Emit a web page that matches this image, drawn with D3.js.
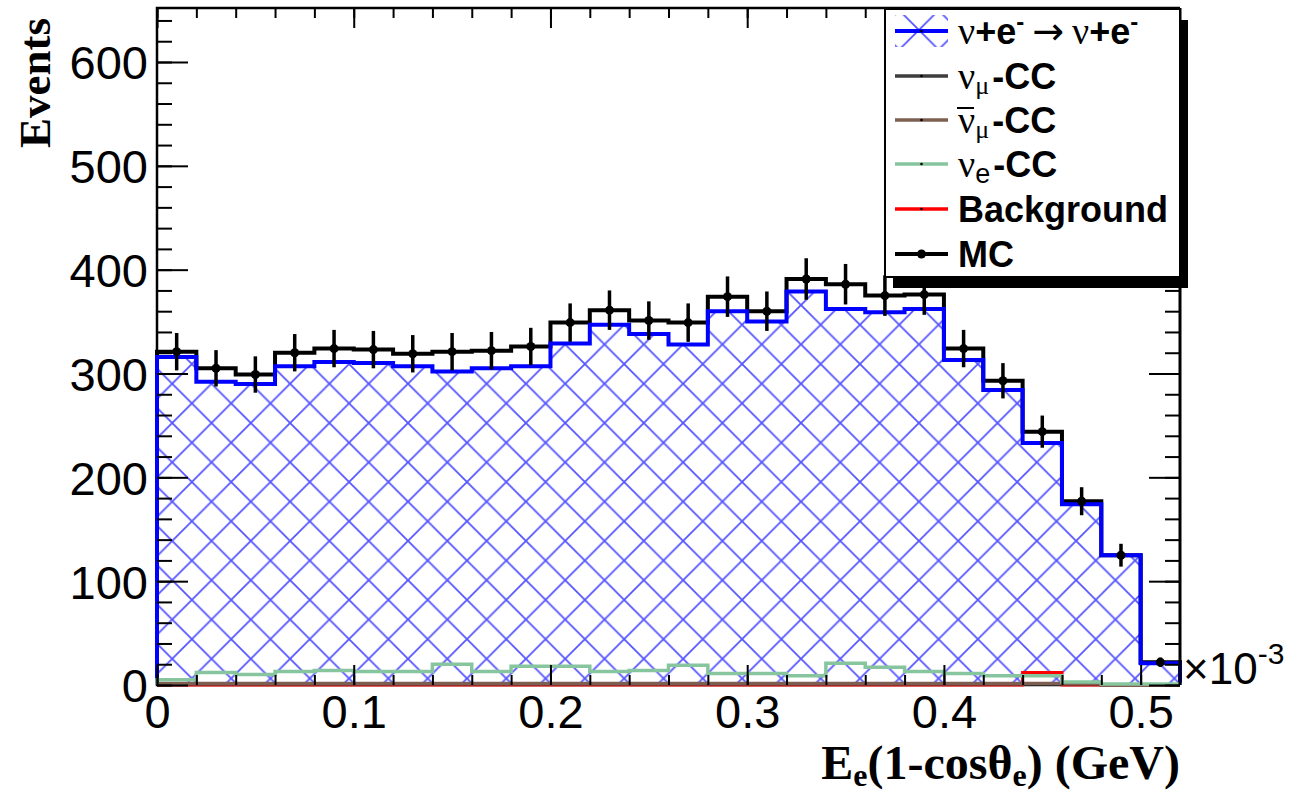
<!DOCTYPE html>
<html>
<head>
<meta charset="utf-8">
<script src="https://cdn.jsdelivr.net/npm/d3@7"></script>
<style>
  body { margin: 0; background: #fff; }
  svg { display: block; }
</style>
</head>
<body>
<div id="chart"></div>
<script>
"use strict";

// bins: low edges, in units of 10^-3 GeV on the axis
var binLow = [0.00, 0.02, 0.04, 0.06, 0.08, 0.10, 0.12, 0.14, 0.16, 0.18, 0.20, 0.22, 0.24,
              0.26, 0.28, 0.30, 0.32, 0.34, 0.36, 0.38, 0.40, 0.42, 0.44, 0.46, 0.48, 0.50];
var binWidth = 0.02;

// histogram contents
var signalCounts = [316, 292, 290, 307, 311, 310, 307, 302, 305, 307, 329, 347, 338,
                    328, 360, 350, 379, 362, 359, 362, 313, 284, 233, 174, 125, 21];
var numuCounts = [1, 1, 1, 1, 1, 1, 1, 1, 1, 1, 1, 1, 1,
                  1, 1, 1, 1, 1, 1, 1, 1, 1, 1, 1, 0, 0];
var antinumuCounts = [1.5, 1.5, 1.5, 1.5, 1.5, 1.5, 1.5, 1.5, 1.5, 1.5, 1.5, 1.5, 1.5,
                      1.5, 1.5, 1.5, 1.5, 1.5, 1.5, 1.5, 1.5, 1.5, 1.5, 1.5, 0, 0];
var nueCounts = [5, 12, 10, 13, 14, 13, 13, 20, 13, 18, 18, 13, 14,
                 19, 11, 11, 9, 21, 17, 13, 11, 9, 9, 3, 1, 1];
var bkgCounts = [0, 0, 0, 0, 0, 0, 0, 0, 0, 0, 0, 0, 0,
                 0, 0, 0, 0, 0, 0, 0, 0, 0, 12, 0, 0, 0];
var mcCounts = [321, 305, 299, 320, 324, 323, 319, 321, 322, 326, 349, 361, 351,
                349, 374, 360, 391, 386, 375, 376, 324, 293, 244, 177, 125, 22];
var mcErrors = [18, 17.5, 17.5, 18, 18, 18, 18, 18, 18, 18, 18.5, 19, 18.5,
                18.5, 19.5, 19, 20, 19.5, 19.5, 19.5, 18, 17, 15.5, 13.5, 11, 4.5];

var xTickValues = [0, 0.1, 0.2, 0.3, 0.4, 0.5];
var xTickLabels = ["0", "0.1", "0.2", "0.3", "0.4", "0.5"];
var yTickValues = [0, 100, 200, 300, 400, 500, 600];
var yTickLabels = ["0", "100", "200", "300", "400", "500", "600"];

// layout
var width = 1297, height = 792;
var frame = {left: 157, right: 1180, top: 8, bottom: 685};
var sansFont = "'Liberation Sans', Arial, sans-serif";
var serifFont = "'Liberation Serif', 'Times New Roman', serif";

var x = d3.scaleLinear().domain([0, 0.52]).range([frame.left, frame.right]);
var y = d3.scaleLinear().domain([0, 652]).range([frame.bottom, frame.top]);

var svg = d3.select("#chart")
  .append("svg")
  .attr("width", width)
  .attr("height", height)
  .style("font-family", sansFont);

// cross hatch like ROOT fill style 3344
var tile = 39.3;
var pattern = svg.append("defs").append("pattern")
  .attr("id", "hatch")
  .attr("patternUnits", "userSpaceOnUse")
  .attr("width", tile)
  .attr("height", tile)
  .attr("patternTransform", "translate(15,30)");
pattern.append("path")
  .attr("d", "M0,0L" + tile + "," + tile +
             "M" + (-tile) + ",0L0," + tile +
             "M" + tile + ",0L" + (2 * tile) + "," + tile +
             "M0," + tile + "L" + tile + ",0" +
             "M" + (-tile) + "," + tile + "L0,0" +
             "M" + tile + "," + tile + "L" + (2 * tile) + ",0")
  .attr("stroke", "#2a2aff")
  .attr("stroke-width", 1.8)
  .attr("stroke-opacity", 0.8)
  .attr("fill", "none");

// frame (right edge drawn later, on top)
svg.append("path")
  .attr("d", "M" + frame.right + "," + frame.top + "H" + frame.left + "V" + frame.bottom + "H" + frame.right)
  .attr("fill", "none")
  .attr("stroke", "#000")
  .attr("stroke-width", 2.5);

function stepPoints(counts) {
  var pts = [[x(binLow[0]), y(0)]];
  counts.forEach(function(v, i) {
    pts.push([x(binLow[i]), y(v)]);
    pts.push([x(binLow[i] + binWidth), y(v)]);
  });
  pts.push([x(binLow[counts.length - 1] + binWidth), y(0)]);
  return pts;
}

var line = d3.line();
var area = d3.area().y0(y(0)).y1(function(p) { return p[1]; });

function drawHist(counts, color, lineWidth) {
  svg.append("path")
    .attr("d", line(stepPoints(counts)))
    .attr("fill", "none")
    .attr("stroke", color)
    .attr("stroke-width", lineWidth)
    .attr("stroke-linejoin", "miter");
}

// signal hatch
svg.append("path")
  .attr("d", area(stepPoints(signalCounts)))
  .attr("fill", "url(#hatch)");

drawHist(mcCounts, "#000", 4);
drawHist(signalCounts, "#0000ff", 4);
drawHist(bkgCounts, "#ff0000", 3);
drawHist(numuCounts, "#3d3d3d", 3);
drawHist(antinumuCounts, "#7d5f52", 3.5);
drawHist(nueCounts, "#86c59e", 3.5);

// MC points with error bars
var mcGroup = svg.append("g");
mcGroup.selectAll("line")
  .data(mcCounts)
  .enter()
  .append("line")
    .attr("x1", function(v, i) { return x(binLow[i] + binWidth / 2); })
    .attr("x2", function(v, i) { return x(binLow[i] + binWidth / 2); })
    .attr("y1", function(v, i) { return y(v - mcErrors[i]); })
    .attr("y2", function(v, i) { return y(v + mcErrors[i]); })
    .attr("stroke", "#000")
    .attr("stroke-width", 3.5);
mcGroup.selectAll("circle")
  .data(mcCounts)
  .enter()
  .append("circle")
    .attr("cx", function(v, i) { return x(binLow[i] + binWidth / 2); })
    .attr("cy", function(v) { return y(v); })
    .attr("r", 4.5)
    .attr("fill", "#000");

// axes: ticks inward on all four sides
function styleAxis(g) {
  g.select(".domain").remove();
  g.selectAll(".tick line").attr("stroke", "#000").attr("stroke-width", 2);
  g.selectAll(".tick text").attr("fill", "#000");
}

var yMinor = d3.range(0, 652, 20);

svg.append("g")
  .attr("transform", "translate(0," + frame.bottom + ")")
  .call(d3.axisBottom(x).tickValues(binLow).tickSize(-10).tickFormat(""))
  .call(styleAxis);
svg.append("g")
  .attr("transform", "translate(0," + frame.bottom + ")")
  .call(d3.axisBottom(x).tickValues(xTickValues).tickSize(-20).tickPadding(10)
    .tickFormat(function(d, i) { return xTickLabels[i]; }))
  .call(styleAxis)
  .selectAll(".tick text")
    .attr("font-family", sansFont)
    .attr("font-size", 47);

svg.append("g")
  .attr("transform", "translate(0," + frame.top + ")")
  .call(d3.axisTop(x).tickValues(binLow).tickSize(-10).tickFormat(""))
  .call(styleAxis);
svg.append("g")
  .attr("transform", "translate(0," + frame.top + ")")
  .call(d3.axisTop(x).tickValues(xTickValues).tickSize(-20).tickFormat(""))
  .call(styleAxis);

svg.append("g")
  .attr("transform", "translate(" + frame.left + ",0)")
  .call(d3.axisLeft(y).tickValues(yMinor).tickSize(-15).tickFormat(""))
  .call(styleAxis);
svg.append("g")
  .attr("transform", "translate(" + frame.left + ",0)")
  .call(d3.axisLeft(y).tickValues(yTickValues).tickSize(-31).tickPadding(9)
    .tickFormat(function(d, i) { return yTickLabels[i]; }))
  .call(styleAxis)
  .selectAll(".tick text")
    .attr("font-family", sansFont)
    .attr("font-size", 47)
    .attr("dy", "0.36em");

svg.append("g")
  .attr("transform", "translate(" + frame.right + ",0)")
  .call(d3.axisRight(y).tickValues(yMinor).tickSize(-15).tickFormat(""))
  .call(styleAxis);
svg.append("g")
  .attr("transform", "translate(" + frame.right + ",0)")
  .call(d3.axisRight(y).tickValues(yTickValues).tickSize(-31).tickFormat(""))
  .call(styleAxis);

svg.append("line")
  .attr("x1", frame.right).attr("x2", frame.right)
  .attr("y1", frame.top).attr("y2", frame.bottom)
  .attr("stroke", "#000")
  .attr("stroke-width", 3);

// rich text with sub/superscripts built from tspans
function richText(parent, px, py, parts, attrs) {
  var t = parent.append("text").attr("x", px).attr("y", py);
  Object.keys(attrs || {}).forEach(function(k) { t.attr(k, attrs[k]); });
  var shift = 0;
  parts.forEach(function(p) {
    var s = t.append("tspan").text(p.t);
    var target = p.dy || 0;
    if (target !== shift) {
      s.attr("dy", target - shift);
      shift = target;
    }
    if (p.dx) s.attr("dx", p.dx);
    if (p.size) s.attr("font-size", p.size);
    if (p.family) s.attr("font-family", p.family);
    if (p.weight) s.attr("font-weight", p.weight);
  });
  return t;
}

// axis titles
svg.append("text")
  .attr("transform", "translate(50,18) rotate(-90)")
  .attr("text-anchor", "end")
  .attr("font-family", serifFont)
  .attr("font-weight", "bold")
  .attr("font-size", 45)
  .text("Events");

richText(svg, frame.right, 779, [
  {t: "E"},
  {t: "e", size: 32, dy: 7},
  {t: "(1-cos"},
  {t: "\u03b8"},
  {t: "e", size: 32, dy: 7},
  {t: ") (GeV)"}
], {"text-anchor": "end", "font-family": serifFont, "font-weight": "bold", "font-size": 48});

richText(svg, frame.right + 3, 684, [
  {t: "\u00d710"},
  {t: "-3", size: 30, dy: -20}
], {"font-family": sansFont, "font-size": 44});

// legend
var legendBox = {left: 885, top: 9, right: 1180, bottom: 277};
var legend = svg.append("g");
legend.append("rect")
  .attr("x", legendBox.left + 8)
  .attr("y", legendBox.top + 11)
  .attr("width", legendBox.right - legendBox.left)
  .attr("height", legendBox.bottom - legendBox.top)
  .attr("fill", "#000");
legend.append("rect")
  .attr("x", legendBox.left)
  .attr("y", legendBox.top)
  .attr("width", legendBox.right - legendBox.left)
  .attr("height", legendBox.bottom - legendBox.top)
  .attr("fill", "#fff")
  .attr("stroke", "#000")
  .attr("stroke-width", 2);

var rowY = [31, 76, 120, 164, 209, 254];
var symX1 = 895, symX2 = 948, textX = 958;
var nuStyle = {family: serifFont, weight: "normal", size: 38};

var legendRows = [
  {color: "#0000ff", hatch: true, parts: [
    Object.assign({t: "\u03bd"}, nuStyle), {t: "+e"}, {t: "-", size: 24, dy: -14},
    {t: "\u2192", family: "'DejaVu Sans', sans-serif", weight: "normal", size: 38, dx: 8},
    Object.assign({t: "\u03bd", dx: 8}, nuStyle), {t: "+e"}, {t: "-", size: 24, dy: -14}]},
  {color: "#3d3d3d", parts: [
    Object.assign({t: "\u03bd"}, nuStyle), {t: "\u03bc", family: serifFont, weight: "normal", size: 26, dy: 5},
    {t: "-CC", dx: 3}]},
  {color: "#7d5f52", bar: true, parts: [
    Object.assign({t: "\u03bd"}, nuStyle), {t: "\u03bc", family: serifFont, weight: "normal", size: 26, dy: 5},
    {t: "-CC", dx: 3}]},
  {color: "#86c59e", parts: [
    Object.assign({t: "\u03bd"}, nuStyle), {t: "e", family: sansFont, weight: "normal", size: 27, dy: 6},
    {t: "-CC", dx: 3}]},
  {color: "#ff0000", parts: [{t: "Background"}]},
  {color: "#000", marker: true, parts: [{t: "MC"}]}
];

legendRows.forEach(function(row, i) {
  var cy = rowY[i];
  if (row.hatch) {
    legend.append("rect")
      .attr("x", symX1).attr("y", cy - 16)
      .attr("width", symX2 - symX1).attr("height", 32)
      .attr("fill", "url(#hatch)");
  }
  legend.append("line")
    .attr("x1", symX1).attr("x2", symX2)
    .attr("y1", cy).attr("y2", cy)
    .attr("stroke", row.color)
    .attr("stroke-width", row.hatch || row.marker ? 4 : 3.5);
  legend.append("circle")
    .attr("cx", (symX1 + symX2) / 2).attr("cy", cy)
    .attr("r", row.marker ? 4.5 : 1.3)
    .attr("fill", "#000");
  richText(legend, textX, cy + 13, row.parts,
    {"font-family": sansFont, "font-weight": "bold", "font-size": 36, "fill": "#000"});
  if (row.bar) {
    legend.append("line")
      .attr("x1", textX - 1).attr("x2", textX + 16)
      .attr("y1", cy - 12).attr("y2", cy - 12)
      .attr("stroke", "#000")
      .attr("stroke-width", 2);
  }
});
</script>
</body>
</html>
